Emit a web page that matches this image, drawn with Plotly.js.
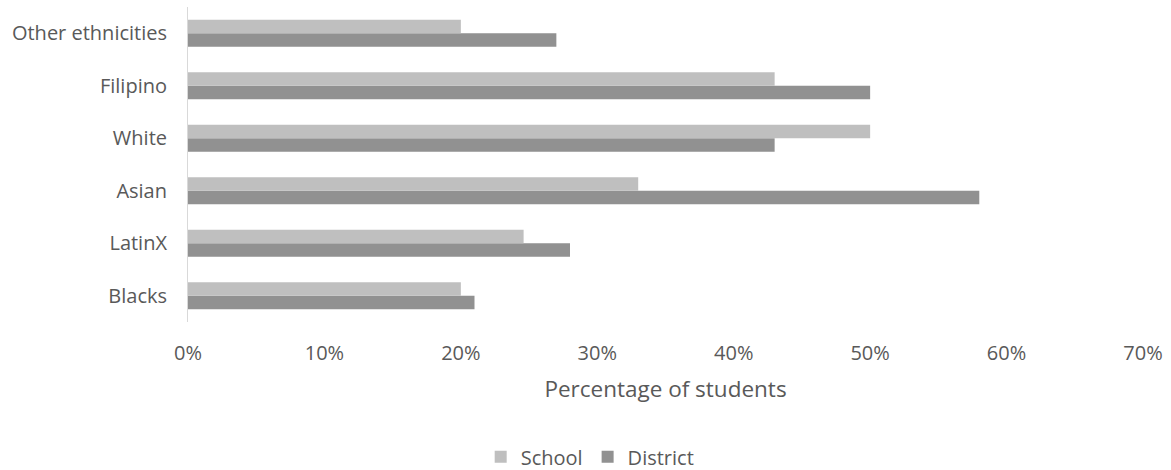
<!DOCTYPE html>
<html>
<head>
<meta charset="utf-8">
<script src="https://cdn.plot.ly/plotly-3.0.1.min.js"></script>
<style>
  html, body { margin: 0; padding: 0; background: #fff; }
  #chart { width: 1171px; height: 470px; }
</style>
</head>
<body>
<div id="chart"></div>
<script>
// Ethnic groups, listed bottom to top
const groups = ['Blacks', 'LatinX', 'Asian', 'White', 'Filipino', 'Other ethnicities'];
// Share of students in each group
const schoolShare   = [0.20, 0.246, 0.33, 0.50, 0.43, 0.20];
const districtShare = [0.21, 0.28, 0.58, 0.43, 0.50, 0.27];
const xTickValues = [0, 0.1, 0.2, 0.3, 0.4, 0.5, 0.6, 0.7];

const textColor = '#595959';
const fontFamily = '"Open Sans", sans-serif';

// District is listed first so School sits above it within each pair
const traces = [
  {
    type: 'bar', orientation: 'h', name: 'District',
    y: groups, x: districtShare,
    marker: { color: '#919191' },
    hoverinfo: 'x+y'
  },
  {
    type: 'bar', orientation: 'h', name: 'School',
    y: groups, x: schoolShare,
    marker: { color: '#bfbfbf' },
    hoverinfo: 'x+y'
  }
];

const layout = {
  width: 1171, height: 470,
  margin: { l: 188, r: 28, t: 7, b: 148, pad: 0 },
  paper_bgcolor: '#ffffff', plot_bgcolor: '#ffffff',
  font: { family: fontFamily, color: textColor, size: 20 },
  barmode: 'group', bargap: 0.487, bargroupgap: 0,
  showlegend: true,
  legend: {
    orientation: 'h', traceorder: 'reversed',
    xref: 'container', yref: 'container',
    x: 0.504, xanchor: 'center', y: 0.028, yanchor: 'middle',
    font: { size: 20, color: textColor }
  },
  xaxis: {
    range: [0, 0.7], tickvals: xTickValues, tickformat: '.0%',
    showgrid: false, zeroline: false, showline: false, ticks: '',
    ticklabelstandoff: 17,
    tickfont: { size: 20, color: textColor },
    title: { text: 'Percentage of students', font: { size: 22.5, color: textColor }, standoff: 16 },
    fixedrange: true
  },
  yaxis: {
    type: 'category', categoryorder: 'array', categoryarray: groups,
    showgrid: false, zeroline: false,
    showline: true, linecolor: '#d9d9d9', linewidth: 1,
    ticks: '', ticklabelstandoff: 16,
    tickfont: { size: 20, color: textColor },
    fixedrange: true
  }
};

Plotly.newPlot('chart', traces, layout, { displayModeBar: false, staticPlot: true });
</script>
</body>
</html>
